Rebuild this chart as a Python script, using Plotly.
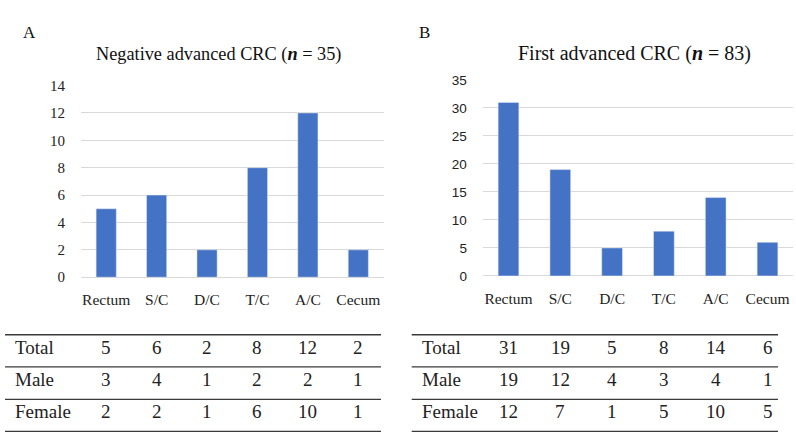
import plotly.graph_objects as go

W, H = 796, 443

sites = ["Rectum", "S/C", "D/C", "T/C", "A/C", "Cecum"]

neg_total = [5, 6, 2, 8, 12, 2]
neg_male = [3, 4, 1, 2, 2, 1]
neg_female = [2, 2, 1, 6, 10, 1]

first_total = [31, 19, 5, 8, 14, 6]
first_male = [19, 12, 4, 3, 4, 1]
first_female = [12, 7, 1, 5, 10, 5]

row_names = ["Total", "Male", "Female"]

BAR = "#4472C4"
GRID = "#d9d9d9"
SERIF = "Liberation Serif, Times New Roman, serif"
SANS = "Liberation Sans, Arial, sans-serif"


def px(x):
    return x / W


def py(y):
    return 1 - y / H


fig = go.Figure()
fig.add_trace(go.Bar(x=sites, y=neg_total, marker_color=BAR, xaxis="x", yaxis="y",
                     showlegend=False, hoverinfo="x+y"))
fig.add_trace(go.Bar(x=sites, y=first_total, marker_color=BAR, xaxis="x2", yaxis="y2",
                     showlegend=False, hoverinfo="x+y"))

xcommon = dict(type="category", showgrid=False, zeroline=False, showline=False,
               ticks="outside", ticklen=8, tickcolor="rgba(0,0,0,0)",
               tickfont=dict(family=SERIF, size=15.5, color="#222"), fixedrange=True)
ycommon = dict(showgrid=True, gridcolor=GRID, gridwidth=1, zeroline=True,
               zerolinecolor=GRID, zerolinewidth=1, showline=False,
               ticks="outside", ticklen=12, tickcolor="rgba(0,0,0,0)", fixedrange=True)

annotations = []
shapes = []


def add_table(xref, left, right, values):
    # columns follow an x axis: category names for "x", column index for the
    # hidden table axis of panel B
    line_ys = [339, 372.3, 406, 439.3]
    for ly in line_ys:
        shapes.append(dict(type="line", xref="paper", yref="paper",
                           x0=px(left), x1=px(right), y0=py(ly), y1=py(ly),
                           line=dict(color="#3a3a3a", width=1.3)))
    row_ys = [352, 385.5, 419]
    for name, vals, ry in zip(row_names, values, row_ys):
        annotations.append(dict(xref="paper", yref="paper", x=px(left + 8), y=py(ry),
                                text=name, showarrow=False, xanchor="left", yanchor="middle",
                                font=dict(family=SERIF, size=19, color="#222")))
        for i, (site, v) in enumerate(zip(sites, vals)):
            annotations.append(dict(xref=xref, yref="paper",
                                    x=site if xref == "x" else i, y=py(ry),
                                    text=str(v), showarrow=False, xanchor="center",
                                    yanchor="middle",
                                    font=dict(family=SERIF, size=19, color="#222")))


add_table("x", 5, 381, [neg_total, neg_male, neg_female])
add_table("x3", 411.7, 778, [first_total, first_male, first_female])

annotations += [
    dict(xref="paper", yref="paper", x=px(21), y=py(25), text="A", showarrow=False,
         xanchor="left", yanchor="middle", font=dict(family=SERIF, size=17, color="#111")),
    dict(xref="paper", yref="paper", x=px(417), y=py(25), text="B", showarrow=False,
         xanchor="left", yanchor="middle", font=dict(family=SERIF, size=17, color="#111")),
    dict(xref="paper", yref="paper", x=px(218), y=py(48),
         text="Negative advanced CRC (<b><i>n</i></b> = 35)", showarrow=False,
         xanchor="center", yanchor="middle", font=dict(family=SERIF, size=18.3, color="#111")),
    dict(xref="paper", yref="paper", x=px(634), y=py(47),
         text="First advanced CRC (<b><i>n</i></b> = 83)", showarrow=False,
         xanchor="center", yanchor="middle", font=dict(family=SERIF, size=20, color="#111")),
]

fig.update_layout(
    width=W, height=H,
    margin=dict(l=0, r=0, t=0, b=0),
    paper_bgcolor="white", plot_bgcolor="white",
    bargap=0.6,
    xaxis=dict(domain=[px(81), px(383.5)], anchor="y", **xcommon),
    yaxis=dict(domain=[py(279.3), py(80.5)], range=[0, 14], dtick=2, anchor="x",
               tickfont=dict(family=SERIF, size=15, color="#222"), **ycommon),
    xaxis2=dict(domain=[px(482.6), px(793.4)], anchor="y2", **xcommon),
    yaxis2=dict(domain=[py(278), py(74.7)], range=[0, 35], dtick=5, anchor="x2",
                tickfont=dict(family=SANS, size=13.5, color="#222"), **ycommon),
    # hidden axis for the panel B table columns (slightly wider than the bars)
    xaxis3=dict(domain=[px(484), 1], range=[-0.5, 5.5], type="linear", visible=False,
                overlaying="x2", anchor="y2", fixedrange=True),
    annotations=annotations,
    shapes=shapes,
)

fig.write_html("out.html", post_script="document.body.style.margin='0';",
               config={"displayModeBar": False})
